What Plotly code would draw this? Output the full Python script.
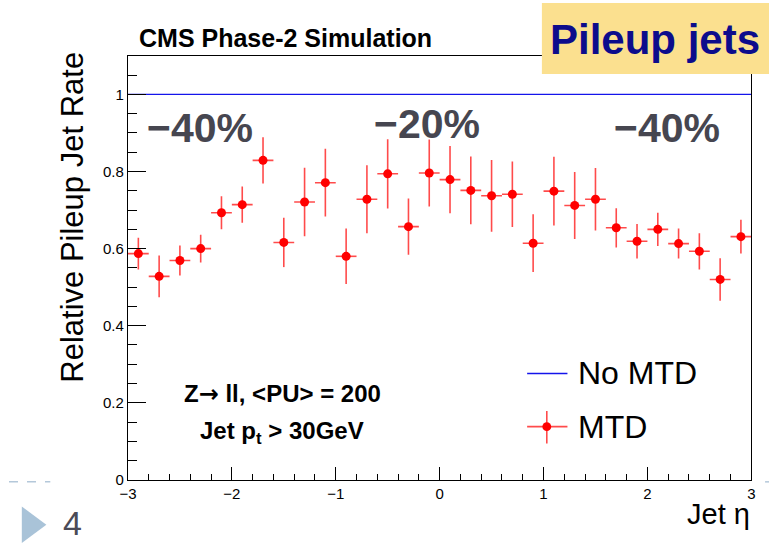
import plotly.graph_objects as go

# Relative pileup-jet rate vs jet eta (30 bins of width 0.2)
eta = [-2.9, -2.7, -2.5, -2.3, -2.1, -1.9, -1.7, -1.5, -1.3, -1.1,
       -0.9, -0.7, -0.5, -0.3, -0.1, 0.1, 0.3, 0.5, 0.7, 0.9,
       1.1, 1.3, 1.5, 1.7, 1.9, 2.1, 2.3, 2.5, 2.7, 2.9]
rate_mtd = [0.587, 0.528, 0.569, 0.600, 0.693, 0.714, 0.829, 0.616, 0.721, 0.771,
            0.580, 0.728, 0.794, 0.657, 0.796, 0.779, 0.751, 0.737, 0.741, 0.614,
            0.749, 0.712, 0.728, 0.654, 0.619, 0.650, 0.613, 0.593, 0.520, 0.631]
err_mtd = [0.041, 0.054, 0.039, 0.036, 0.043, 0.047, 0.060, 0.064, 0.089, 0.088,
           0.072, 0.088, 0.090, 0.073, 0.087, 0.087, 0.088, 0.093, 0.085, 0.075,
           0.089, 0.087, 0.081, 0.051, 0.045, 0.043, 0.039, 0.047, 0.055, 0.044]
bin_half_width = 0.2 / 2
eta_edges = [-3.0, 3.0]
rate_no_mtd = [1.0, 1.0]

region_labels = ["\u221240%", "\u221220%", "\u221240%"]
region_x = [-2.31, -0.12, 2.19]
region_y = [0.912, 0.922, 0.912]

FONT = "Liberation Sans, Arial, Helvetica, sans-serif"
RED = "rgb(255,0,0)"
ERR = "rgba(255,30,30,0.8)"
BLUE = "rgb(20,20,235)"

fig = go.Figure()

fig.add_trace(go.Scatter(
    x=eta_edges, y=rate_no_mtd, mode="lines",
    line=dict(color=BLUE, width=1.2), name="No MTD", showlegend=False,
))

fig.add_trace(go.Scatter(
    x=eta, y=rate_mtd, mode="markers", name="MTD", showlegend=False,
    marker=dict(color=RED, size=9, symbol="circle"),
    error_y=dict(type="data", array=err_mtd, color=ERR, thickness=1.6, width=0),
    error_x=dict(type="constant", value=bin_half_width, color=ERR, thickness=1.6, width=0),
))

x0, x1 = 121 / 773, 755 / 773
y0, y1 = (547 - 487) / 547, (547 - 56.7) / 547

fig.update_layout(
    width=773, height=547,
    margin=dict(l=0, r=0, t=0, b=0),
    paper_bgcolor="white", plot_bgcolor="white",
    font=dict(family=FONT, color="black"),
    xaxis=dict(
        domain=[x0, x1], range=[-3, 3], dtick=1, tick0=-3,
        showgrid=False, zeroline=False,
        showline=True, linecolor="black", linewidth=1.2, mirror=True,
        ticks="inside", ticklen=13, tickcolor="black", tickwidth=1,
        tickfont=dict(size=15, family=FONT, color="black"),
        minor=dict(dtick=0.2, tick0=-3, ticks="inside", ticklen=6,
                   tickcolor="black", tickwidth=1, showgrid=False),
    ),
    yaxis=dict(
        domain=[y0, y1], range=[0, 1.1], dtick=0.2, tick0=0,
        showgrid=False, zeroline=False,
        showline=True, linecolor="black", linewidth=1.2, mirror=True,
        ticks="inside", ticklen=18, tickcolor="black", tickwidth=1,
        tickfont=dict(size=15, family=FONT, color="black"),
        minor=dict(dtick=0.05, tick0=0, ticks="inside", ticklen=9,
                   tickcolor="black", tickwidth=1, showgrid=False),
    ),
)

annotations = [
    dict(text="<b>CMS Phase-2 Simulation</b>", x=130, y=39, xanchor="left", yanchor="middle",
         font=dict(size=25, color="black")),
    dict(text="Relative Pileup Jet Rate", x=65, y=220, textangle=-90,
         xanchor="center", yanchor="middle", font=dict(size=31, color="black")),
    dict(text="Jet \u03b7", x=756, y=522, xanchor="right", yanchor="middle",
         font=dict(size=29, color="black")),
    dict(text="<b>Z<span style=\"font-family:DejaVu Sans\">\u2192</span> ll, &lt;PU&gt; = 200</b>",
         x=278, y=400, xanchor="center", yanchor="middle",
         font=dict(size=24, color="black")),
    dict(text="<b>Jet p<sub>t</sub> &gt; 30GeV</b>", x=278, y=439, xanchor="center", yanchor="middle",
         font=dict(size=24, color="black")),
    dict(text="No MTD", x=577, y=379, xanchor="left", yanchor="middle",
         font=dict(size=32, color="black")),
    dict(text="MTD", x=577, y=433, xanchor="left", yanchor="middle",
         font=dict(size=32, color="black")),
    dict(text="<b>Pileup jets</b>", x=657, y=40, xanchor="center", yanchor="middle",
         font=dict(size=42, color="rgb(12,12,140)")),
    dict(text="4", x=65, y=531, xanchor="center", yanchor="middle",
         font=dict(size=34, color="rgb(75,75,87)")),
]
layout_ann = []
for a in annotations:
    a = dict(a)
    a["x"] = a["x"] / 773
    a["y"] = 1 - a["y"] / 547
    a.update(xref="paper", yref="paper", showarrow=False)
    layout_ann.append(a)

# efficiency-reduction labels placed in data coordinates
for lab, lx, ly in zip(region_labels, region_x, region_y):
    layout_ann.append(dict(text="<b>" + lab + "</b>", x=lx, y=ly, xref="x", yref="y",
                           showarrow=False, xanchor="center", yanchor="middle",
                           font=dict(size=41, color="rgb(70,70,80)")))
fig.update_layout(annotations=layout_ann)


def px(x, y):
    return x / 773, 1 - y / 547


shapes = []
# title badge
bx0, by0 = px(542, 3)
bx1, by1 = px(773, 75)
shapes.append(dict(type="rect", xref="paper", yref="paper", x0=bx0, y0=by1, x1=bx1, y1=by0,
                   fillcolor="rgb(251,224,143)", line=dict(width=0), layer="above"))
# legend: No MTD line
lx0, ly = px(527, 379)
lx1, _ = px(568, 379)
shapes.append(dict(type="line", xref="paper", yref="paper", x0=lx0, x1=lx1, y0=ly, y1=ly,
                   line=dict(color=BLUE, width=1.5)))
# legend: MTD marker with error cross
mx, my = px(547, 433)
_, mt = px(547, 417)
_, mb = px(547, 450)
shapes.append(dict(type="line", xref="paper", yref="paper", x0=lx0, x1=lx1, y0=my, y1=my,
                   line=dict(color=ERR, width=1.6)))
shapes.append(dict(type="line", xref="paper", yref="paper", x0=mx, x1=mx, y0=mb, y1=mt,
                   line=dict(color=ERR, width=1.6)))
cx0, cy0 = px(542.5, 428.5)
cx1, cy1 = px(551.5, 437.5)
shapes.append(dict(type="circle", xref="paper", yref="paper", x0=cx0, y0=cy1, x1=cx1, y1=cy0,
                   fillcolor=RED, line=dict(width=0)))
# slide footer: dashed rule and page marker
dx0, dy = px(0, 489)
dx1, _ = px(42, 489)
shapes.append(dict(type="line", xref="paper", yref="paper", x0=dx0, x1=dx1, y0=dy, y1=dy,
                   line=dict(color="rgb(180,200,218)", width=1.5, dash="dash")))
ex0, _ = px(769, 489)
ex1, _ = px(773, 489)
shapes.append(dict(type="line", xref="paper", yref="paper", x0=ex0, x1=ex1, y0=dy, y1=dy,
                   line=dict(color="rgb(180,200,218)", width=1.5)))
t1 = px(13, 514)
t2 = px(13, 551)
t3 = px(38, 532.5)
shapes.append(dict(type="path", xref="paper", yref="paper",
                   path=f"M {t1[0]} {t1[1]} L {t2[0]} {t2[1]} L {t3[0]} {t3[1]} Z",
                   fillcolor="rgb(169,195,216)", line=dict(width=0)))
fig.update_layout(shapes=shapes)

fig.write_html("out.html")
